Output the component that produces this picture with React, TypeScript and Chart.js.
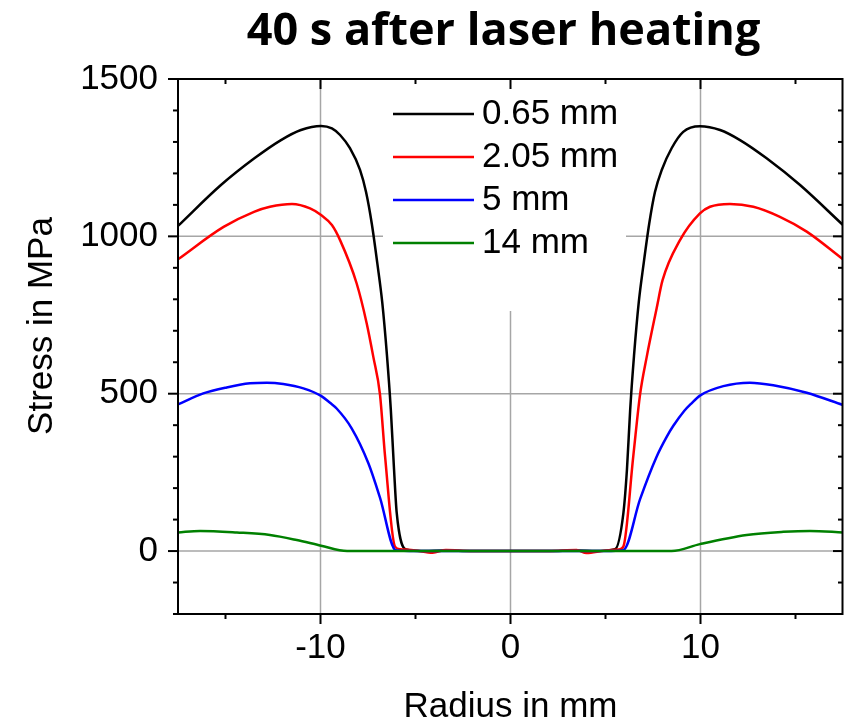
import React, { useEffect, useRef } from "react";
import { Chart, registerables } from "chart.js";

Chart.register(...registerables);

// ---- Data ----
const radius065 = [-17.5, -15.24, -13.48, -12.08, -11.03, -9.97, -9.4, -8.97, -8.45, -7.92, -7.6, -7.3, -7.0, -6.75, -6.5, -6.3, -6.13, -5.99, -5.5, -4.5, -3.5, -2, 0, 2, 3.5, 4.5, 5.5, 5.94, 6.13, 6.3, 6.5, 6.75, 7.0, 7.3, 7.6, 7.96, 8.48, 9.09, 9.97, 11.03, 12.08, 13.48, 15.24, 17.5];
const stress065 = [1033, 1163, 1248, 1306, 1338, 1351, 1343, 1322, 1280, 1211, 1140, 1040, 910, 790, 620, 450, 260, 122, 5, 0, 2, 0, 0, 0, 2, 0, 6, 120, 260, 450, 620, 790, 910, 1040, 1140, 1211, 1280, 1332, 1350, 1338, 1306, 1248, 1163, 1036];

const radius205 = [-17.5, -15.1, -13.5, -12.66, -11.5, -10.55, -9.97, -9.4, -8.97, -8.1, -7.57, -7.22, -6.87, -6.6, -6.08, -5.8, -5, -4.1, -3.4, -2, 0, 2, 3.48, 4.0, 5, 5.7, 5.94, 6.46, 6.82, 7.17, 7.69, 8.0, 8.92, 9.97, 10.5, 11.55, 12.78, 14.18, 15.59, 17.5];
const stress205 = [927, 1030, 1078, 1094, 1103, 1089, 1068, 1036, 988, 851, 724, 617, 498, 300, 14, 6, 2, -5, 3, 0, 0, 0, 3, -6, 2, 5, 14, 300, 498, 617, 771, 860, 988, 1073, 1094, 1103, 1094, 1062, 1015, 927];

const radius5 = [-17.5, -16.17, -14.94, -13.71, -12.83, -11.96, -10.9, -9.97, -9.5, -9.15, -8.36, -7.48, -6.87, -6.04, -5, 0, 5, 5.94, 6.82, 7.69, 8.22, 8.57, 9.15, 9.5, 9.97, 11.2, 12.6, 13.83, 15.59, 17.5];
const stress5 = [466, 501, 520, 533, 535, 531, 517, 493, 471, 453, 390, 279, 170, 3, 0, 0, 0, 3, 165, 300, 363, 398, 446, 468, 494, 524, 535, 527, 503, 464];

const radius14 = [-17.5, -16.34, -14.4, -12.66, -11.25, -9.97, -8.6, 0, 8.48, 9.97, 12.43, 14.36, 15.76, 17.5];
const stress14 = [59, 64, 59, 51, 35, 17, 0, 0, 0, 22, 51, 61, 64, 59];

const seriesLabels = ["0.65 mm", "2.05 mm", "5 mm", "14 mm"];
const seriesColors = ["#000000", "#ff0000", "#0000ff", "#008000"];
const xTickLabels = [-10, 0, 10];
const yTickLabels = [0, 500, 1000, 1500];
const xMinorTicks = [-15, -10, -5, 0, 5, 10, 15];
const xGridValues = [-10, 0, 10];
const yGridValues = [0, 500, 1000];
const titleText = "40 s after laser heating";
const xTitle = "Radius in mm";
const yTitle = "Stress in MPa";

const FONT = "'Liberation Sans', Arial, sans-serif";

function pts(xs: number[], ys: number[]) {
  return xs.map((x, i) => ({ x, y: ys[i] }));
}

const decorPlugin = {
  id: "decor",
  beforeDatasetsDraw(chart: any) {
    const { ctx, chartArea: a, scales } = chart;
    const xs = scales.x, ys = scales.y;
    ctx.save();
    ctx.strokeStyle = "#a6a6a6";
    ctx.lineWidth = 1.5;
    for (const v of xGridValues) {
      const px = xs.getPixelForValue(v);
      ctx.beginPath(); ctx.moveTo(px, a.top); ctx.lineTo(px, a.bottom); ctx.stroke();
    }
    for (const v of yGridValues) {
      const py = ys.getPixelForValue(v);
      ctx.beginPath(); ctx.moveTo(a.left, py); ctx.lineTo(a.right, py); ctx.stroke();
    }
    // legend background box
    ctx.fillStyle = "#ffffff";
    ctx.fillRect(a.left + 205, a.top, 243, 232);
    ctx.restore();
  },
  afterDraw(chart: any) {
    const { ctx, chartArea: a, scales } = chart;
    const xs = scales.x, ys = scales.y;
    ctx.save();
    ctx.strokeStyle = "#000";
    ctx.lineWidth = 2;
    for (const v of xMinorTicks) {
      const px = xs.getPixelForValue(v);
      const len = v % 10 === 0 ? 10 : 5;
      ctx.beginPath(); ctx.moveTo(px, a.bottom); ctx.lineTo(px, a.bottom + len); ctx.stroke();
      ctx.beginPath(); ctx.moveTo(px, a.top); ctx.lineTo(px, a.top + len); ctx.stroke();
    }
    for (let v = -200; v <= 1500; v += 100) {
      const py = ys.getPixelForValue(v);
      const len = v % 500 === 0 ? 10 : 5;
      ctx.beginPath(); ctx.moveTo(a.left - len, py); ctx.lineTo(a.left, py); ctx.stroke();
      ctx.beginPath(); ctx.moveTo(a.right - len, py); ctx.lineTo(a.right, py); ctx.stroke();
    }
    ctx.strokeRect(a.left, a.top, a.right - a.left - 0.5, a.bottom - a.top);

    // legend
    const lx0 = a.left + 215, lx1 = a.left + 296, tx = a.left + 304;
    ctx.font = `35px ${FONT}`;
    ctx.textAlign = "left";
    ctx.textBaseline = "middle";
    seriesLabels.forEach((lab, i) => {
      const ly = a.top + 35 + i * 43;
      ctx.strokeStyle = seriesColors[i];
      ctx.lineWidth = 2.5;
      ctx.beginPath(); ctx.moveTo(lx0, ly); ctx.lineTo(lx1, ly); ctx.stroke();
      ctx.fillStyle = "#000";
      ctx.fillText(lab, tx, ly);
    });

    // title
    ctx.fillStyle = "#000";
    ctx.font = `bold 45px 'Open Sans', sans-serif`;
    ctx.textAlign = "center";
    ctx.textBaseline = "alphabetic";
    ctx.fillText(titleText, 503.5, 45);

    // axis titles
    ctx.font = `35px ${FONT}`;
    ctx.fillText(xTitle, (a.left + a.right) / 2, 717);
    ctx.save();
    ctx.translate(52, 326);
    ctx.rotate(-Math.PI / 2);
    ctx.fillText(yTitle, 0, 0);
    ctx.restore();
    ctx.restore();
  },
};

export default function App() {
  const ref = useRef<HTMLCanvasElement | null>(null);
  useEffect(() => {
    if (!ref.current) return;
    const mk = (xs: number[], ys: number[], i: number, order: number) => ({
      label: seriesLabels[i],
      data: pts(xs, ys),
      borderColor: seriesColors[i],
      backgroundColor: seriesColors[i],
      borderWidth: 2.5,
      pointRadius: 0,
      cubicInterpolationMode: "monotone" as const,
      fill: false,
      order,
    });
    const chart = new Chart(ref.current, {
      type: "line",
      data: {
        datasets: [
          mk(radius065, stress065, 0, 3),
          mk(radius205, stress205, 1, 2),
          mk(radius5, stress5, 2, 1),
          mk(radius14, stress14, 3, 0),
        ],
      },
      options: {
        responsive: false,
        animation: false,
        devicePixelRatio: 1,
        layout: { padding: { top: 79, right: 7, left: 0, bottom: 0 } },
        plugins: { legend: { display: false }, title: { display: false }, tooltip: { enabled: false } },
        scales: {
          x: {
            type: "linear",
            min: -17.5,
            max: 17.5,
            grid: { display: false, drawTicks: false },
            border: { display: false },
            afterBuildTicks: (s: any) => { s.ticks = xTickLabels.map((v) => ({ value: v })); },
            afterFit: (s: any) => { s.height = 107; },
            ticks: { color: "#000", padding: 13, font: { family: FONT, size: 35 }, maxRotation: 0, autoSkip: false, callback: (v: any) => String(v) },
          },
          y: {
            type: "linear",
            min: -200,
            max: 1500,
            grid: { display: false, drawTicks: false },
            border: { display: false },
            afterBuildTicks: (s: any) => { s.ticks = yTickLabels.map((v) => ({ value: v })); },
            afterFit: (s: any) => { s.width = 178; },
            ticks: { color: "#000", padding: 20, font: { family: FONT, size: 35 }, callback: (v: any) => String(v) },
          },
        },
      },
      plugins: [decorPlugin],
    });
    return () => chart.destroy();
  }, []);
  return (
    <div style={{ position: "absolute", left: 0, top: 0, width: 850, height: 721, background: "#fff" }}>
      <canvas ref={ref} width={850} height={721} style={{ display: "block" }} />
    </div>
  );
}
